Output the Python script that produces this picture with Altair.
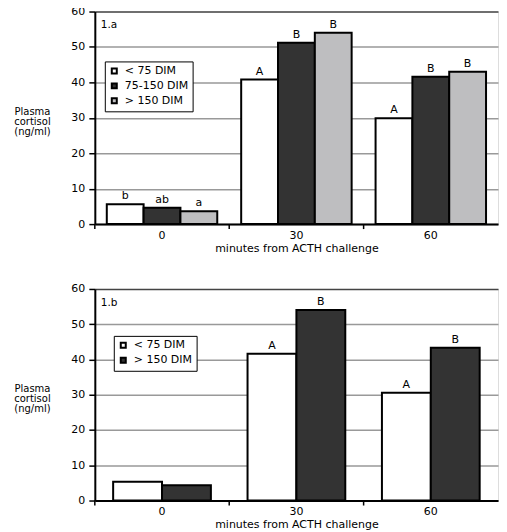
import altair as alt
import pandas as pd

minutes = ["0", "30", "60"]

# Panel 1.a
groups_a = ["< 75 DIM", "75-150 DIM", "> 150 DIM"]
colors_a = ["#ffffff", "#333333", "#bebec0"]
vals_a = {
    "< 75 DIM": [5.6, 40.8, 29.9],
    "75-150 DIM": [4.6, 51.2, 41.6],
    "> 150 DIM": [3.6, 54.0, 43.0],
}
letters_a = {
    "< 75 DIM": ["b", "A", "A"],
    "75-150 DIM": ["ab", "B", "B"],
    "> 150 DIM": ["a", "B", "B"],
}

# Panel 1.b
groups_b = ["< 75 DIM", "> 150 DIM"]
colors_b = ["#ffffff", "#333333"]
vals_b = {
    "< 75 DIM": [5.3, 41.6, 30.6],
    "> 150 DIM": [4.3, 54.0, 43.3],
}
letters_b = {
    "< 75 DIM": ["", "A", "A"],
    "> 150 DIM": ["", "B", "B"],
}

FONT = "DejaVu Sans"
W = 404


def make_df(groups, vals, letters):
    rows = []
    for g in groups:
        for i, m in enumerate(minutes):
            rows.append({"minute": m, "group": g, "value": vals[g][i], "letter": letters[g][i]})
    return pd.DataFrame(rows)


def panel(groups, colors, vals, letters, tag, pad_outer, legend_x, legend_y, H):
    df = make_df(groups, vals, letters)
    xenc = alt.X(
        "minute:N",
        sort=minutes,
        scale=alt.Scale(paddingInner=0, paddingOuter=0),
        axis=alt.Axis(
            title="minutes from ACTH challenge",
            labelAngle=0,
            ticks=False,
            labelPadding=5,
            labelFont=FONT,
            labelFontSize=11,
            labelColor="#000",
            titleFont=FONT,
            titleFontSize=11,
            titleFontWeight="normal",
            titleColor="#000",
            titlePadding=2,
            domainColor="#000",
            domainWidth=2,
        ),
    )
    xoff = alt.XOffset(
        "group:N", sort=groups,
        scale=alt.Scale(paddingOuter=pad_outer, paddingInner=0),
    )
    yenc = alt.Y(
        "value:Q",
        scale=alt.Scale(domain=[0, 60], nice=False),
        axis=alt.Axis(
            values=[0, 10, 20, 30, 40, 50, 60],
            title=["Plasma", "cortisol", "(ng/ml)"],
            titleAngle=0,
            titleAlign="center",
            titleBaseline="middle",
            titleX=-63,
            titleY=100,
            titleLineHeight=10,
            titleFont=FONT,
            titleFontSize=10,
            titleFontWeight="normal",
            titleColor="#000",
            labelFont=FONT,
            labelFontSize=11,
            labelColor="#000",
            labelPadding=4,
            labelOverlap=False,
            tickColor="#000",
            tickWidth=1.5,
            tickSize=6,
            domainColor="#000",
            domainWidth=2,
            gridColor={"condition": {"test": "datum.value === 60", "value": "#444444"}, "value": "#999999"},
            gridWidth=1.5,
        ),
    )
    bars = alt.Chart(df).mark_bar(stroke="#000", strokeWidth=2).encode(
        x=xenc,
        xOffset=xoff,
        y=yenc,
        fill=alt.Fill(
            "group:N",
            sort=groups,
            scale=alt.Scale(domain=groups, range=colors),
            legend=alt.Legend(
                title=None,
                orient="none",
                legendX=legend_x,
                legendY=legend_y,
                strokeColor="#000",
                fillColor="#fff",
                padding=4,
                symbolType="square",
                symbolSize=25,
                symbolStrokeColor="#000",
                symbolStrokeWidth=2,
                labelFont=FONT,
                labelFontSize=11,
                labelColor="#000",
                rowPadding=2,
                labelOffset=5,
            ),
        ),
    )
    labels = alt.Chart(df).mark_text(
        font=FONT, fontSize=11, color="#000", baseline="bottom", dy=-3
    ).encode(
        x=xenc,
        xOffset=xoff,
        y=yenc,
        text="letter:N",
    )
    edges = alt.Chart(pd.DataFrame({"minute": minutes})).mark_rule(
        color="#000", strokeWidth=1.5
    ).encode(
        x=alt.X("minute:N", sort=minutes, bandPosition=0, scale=alt.Scale(paddingInner=0, paddingOuter=0)),
        y=alt.value(H),
        y2=alt.value(H + 5),
    )
    tagc = alt.Chart(pd.DataFrame({"t": [tag]})).mark_text(
        font=FONT, fontSize=10.5, color="#000", align="left", baseline="middle"
    ).encode(x=alt.value(6), y=alt.value(14), text="t:N")
    return alt.layer(bars, labels, edges, tagc).properties(width=W, height=H)


top = panel(groups_a, colors_a, vals_a, letters_a, "1.a", 0.325, 10, 50, 213)
bottom = panel(groups_b, colors_b, vals_b, letters_b, "1.b", 0.375, 19, 47, 212)

chart = alt.vconcat(top, bottom, spacing=28).resolve_scale(
    fill="independent", xOffset="independent", x="independent", y="independent"
).properties(
    padding={"left": 5, "top": -4, "right": 0, "bottom": 0}
).configure_view(stroke=None).configure_legend(strokeWidth=2).configure(background="#ffffff")

chart.save("out.html", embed_options={"renderer": "svg", "actions": False})
